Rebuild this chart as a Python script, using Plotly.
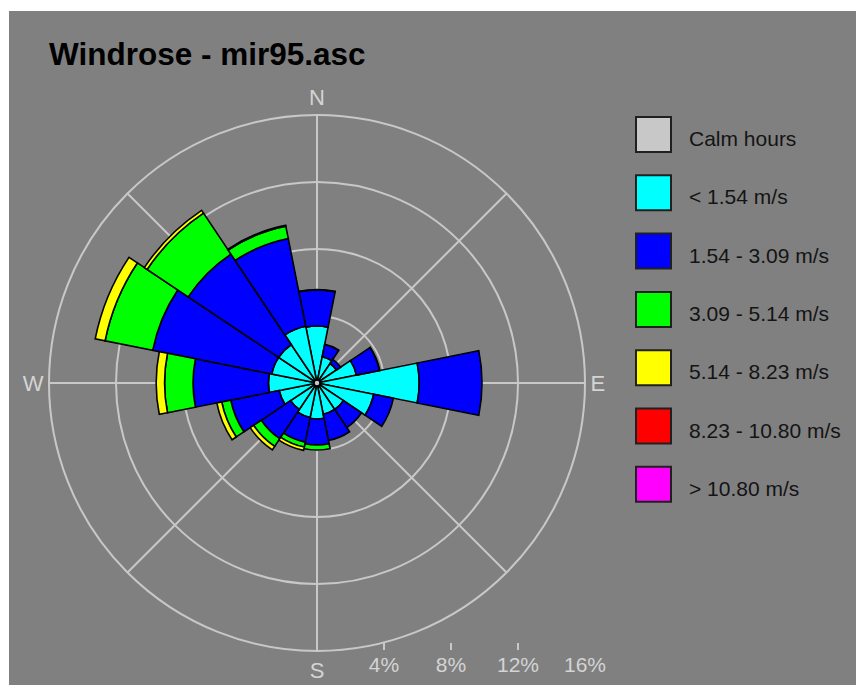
import plotly.graph_objects as go

# ---- data -------------------------------------------------------------
# Sixteen compass sectors, clockwise from north (degrees)
directions = ["N", "NNE", "NE", "ENE", "E", "ESE", "SE", "SSE",
              "S", "SSW", "SW", "WSW", "W", "WNW", "NW", "NNW"]
sector_deg = [0, 22.5, 45, 67.5, 90, 112.5, 135, 157.5,
              180, 202.5, 225, 247.5, 270, 292.5, 315, 337.5]

speed_classes = ["< 1.54 m/s", "1.54 - 3.09 m/s", "3.09 - 5.14 m/s",
                 "5.14 - 8.23 m/s", "8.23 - 10.80 m/s", "> 10.80 m/s"]
class_colors = ["#00FFFF", "#0000FF", "#00FF00", "#FFFF00", "#FF0000", "#FF00FF"]

# Frequency (% of hours) per sector for each speed class
freq_lt_154 = [3.4, 1.6, 1.4, 2.4, 6.1, 3.45, 1.9, 1.9,
               2.15, 2.1, 1.9, 2.3, 2.9, 2.75, 2.75, 3.45]
freq_154_309 = [2.15, 0.75, 0.3, 1.4, 3.75, 1.2, 1.3, 1.6,
                1.55, 1.5, 2.1, 2.95, 4.5, 7.25, 6.5, 5.35]
freq_309_514 = [0.03, 0.0, 0.0, 0.0, 0.0, 0.0, 0.0, 0.0,
                0.3, 0.3, 0.55, 0.55, 1.7, 2.9, 2.95, 0.75]
freq_514_823 = [0.0, 0.0, 0.0, 0.02, 0.0, 0.0, 0.0, 0.0,
                0.0, 0.2, 0.25, 0.3, 0.5, 0.6, 0.2, 0.05]
freq_823_1080 = [0.0] * 16
freq_gt_1080 = [0.0] * 16

calm_label = "Calm hours"
calm_color = "#C8C8C8"

radial_ticks = [4, 8, 12, 16]
radial_ticktext = ["4%", "8%", "12%", "16%"]
compass_vals = [0, 45, 90, 135, 180, 225, 270, 315]
compass_text = ["N", "", "E", "", "S", "", "W", ""]

# ---- figure -----------------------------------------------------------
W, H = 856, 685
BG = "#808080"
GRID = "#C8C8C8"
LABEL = "#D4D4D4"
FONT = "Liberation Sans, Arial, sans-serif"


def px_x(x):
    return x / W


def px_y(y):
    return 1 - y / H


fig = go.Figure()

series = [freq_lt_154, freq_154_309, freq_309_514,
          freq_514_823, freq_823_1080, freq_gt_1080]
for name, color, values in zip(speed_classes, class_colors, series):
    fig.add_trace(go.Barpolar(
        r=values, theta=sector_deg, width=[22.5] * 16, name=name,
        marker=dict(color=color, line=dict(color="black", width=1.6)),
        showlegend=False,
    ))

# calm hours marker at the origin
fig.add_trace(go.Scatterpolar(
    r=[0], theta=[0], mode="markers", name=calm_label,
    marker=dict(size=6, color=calm_color, line=dict(color="black", width=1.5)),
    showlegend=False,
))

# helper trace so the percentage scale axis is drawn
fig.add_trace(go.Scatter(x=[0], y=[0.5], mode="markers",
                         marker=dict(opacity=0), hoverinfo="skip",
                         showlegend=False, xaxis="x", yaxis="y"))

polar_x = [px_x(49), px_x(585)]
polar_y = [px_y(651), px_y(115)]

fig.update_layout(
    width=W, height=H, autosize=False,
    margin=dict(l=0, r=0, t=0, b=0, autoexpand=False),
    paper_bgcolor="white",
    plot_bgcolor="rgba(0,0,0,0)",
    font=dict(family=FONT),
    polar=dict(
        domain=dict(x=polar_x, y=polar_y),
        bgcolor="rgba(0,0,0,0)",
        barmode="stack",
        radialaxis=dict(range=[0, 16], tickvals=radial_ticks[:-1],
                        showticklabels=False, ticks="", showline=False,
                        gridcolor=GRID, gridwidth=2),
        angularaxis=dict(direction="clockwise", rotation=90,
                         tickvals=compass_vals, ticktext=compass_text,
                         ticks="", showline=True, linecolor=GRID, linewidth=2,
                         gridcolor=GRID, gridwidth=2,
                         tickfont=dict(family=FONT, size=22, color=LABEL)),
    ),
    xaxis=dict(domain=polar_x, range=[-16, 16], tickvals=radial_ticks,
               ticktext=radial_ticktext, ticks="inside", ticklen=7,
               tickwidth=2, tickcolor=GRID, showgrid=False, zeroline=False,
               showline=False, fixedrange=True, automargin=False,
               tickfont=dict(family=FONT, size=21, color=LABEL)),
    yaxis=dict(domain=[px_y(650), px_y(640)], range=[0, 1], visible=False,
               fixedrange=True, automargin=False),
    title=dict(text="<b>Windrose - mir95.asc</b>", x=px_x(49), xanchor="left",
               y=px_y(54), yanchor="middle",
               font=dict(family=FONT, size=31.5, color="black")),
)

shapes = [dict(type="rect", xref="paper", yref="paper",
               x0=px_x(9), x1=1.0, y0=0.0, y1=px_y(11),
               fillcolor=BG, line=dict(width=0), layer="below")]
annotations = []

# legend: calm hours followed by the speed classes
legend_names = [calm_label] + speed_classes
legend_colors = [calm_color] + class_colors
top, step, size = 117, 58.3, 35
for i, (name, color) in enumerate(zip(legend_names, legend_colors)):
    y0 = top + i * step
    shapes.append(dict(type="rect", xref="paper", yref="paper",
                       x0=px_x(636), x1=px_x(636 + size),
                       y0=px_y(y0 + size), y1=px_y(y0),
                       fillcolor=color, line=dict(color="#202020", width=2)))
    annotations.append(dict(text=name, xref="paper", yref="paper",
                            x=px_x(687), y=px_y(y0 + size / 2 + 4),
                            xanchor="left", yanchor="middle", showarrow=False,
                            font=dict(family=FONT, size=21, color="#141414")))

fig.update_layout(shapes=shapes, annotations=annotations)

fig.write_html("out.html")
